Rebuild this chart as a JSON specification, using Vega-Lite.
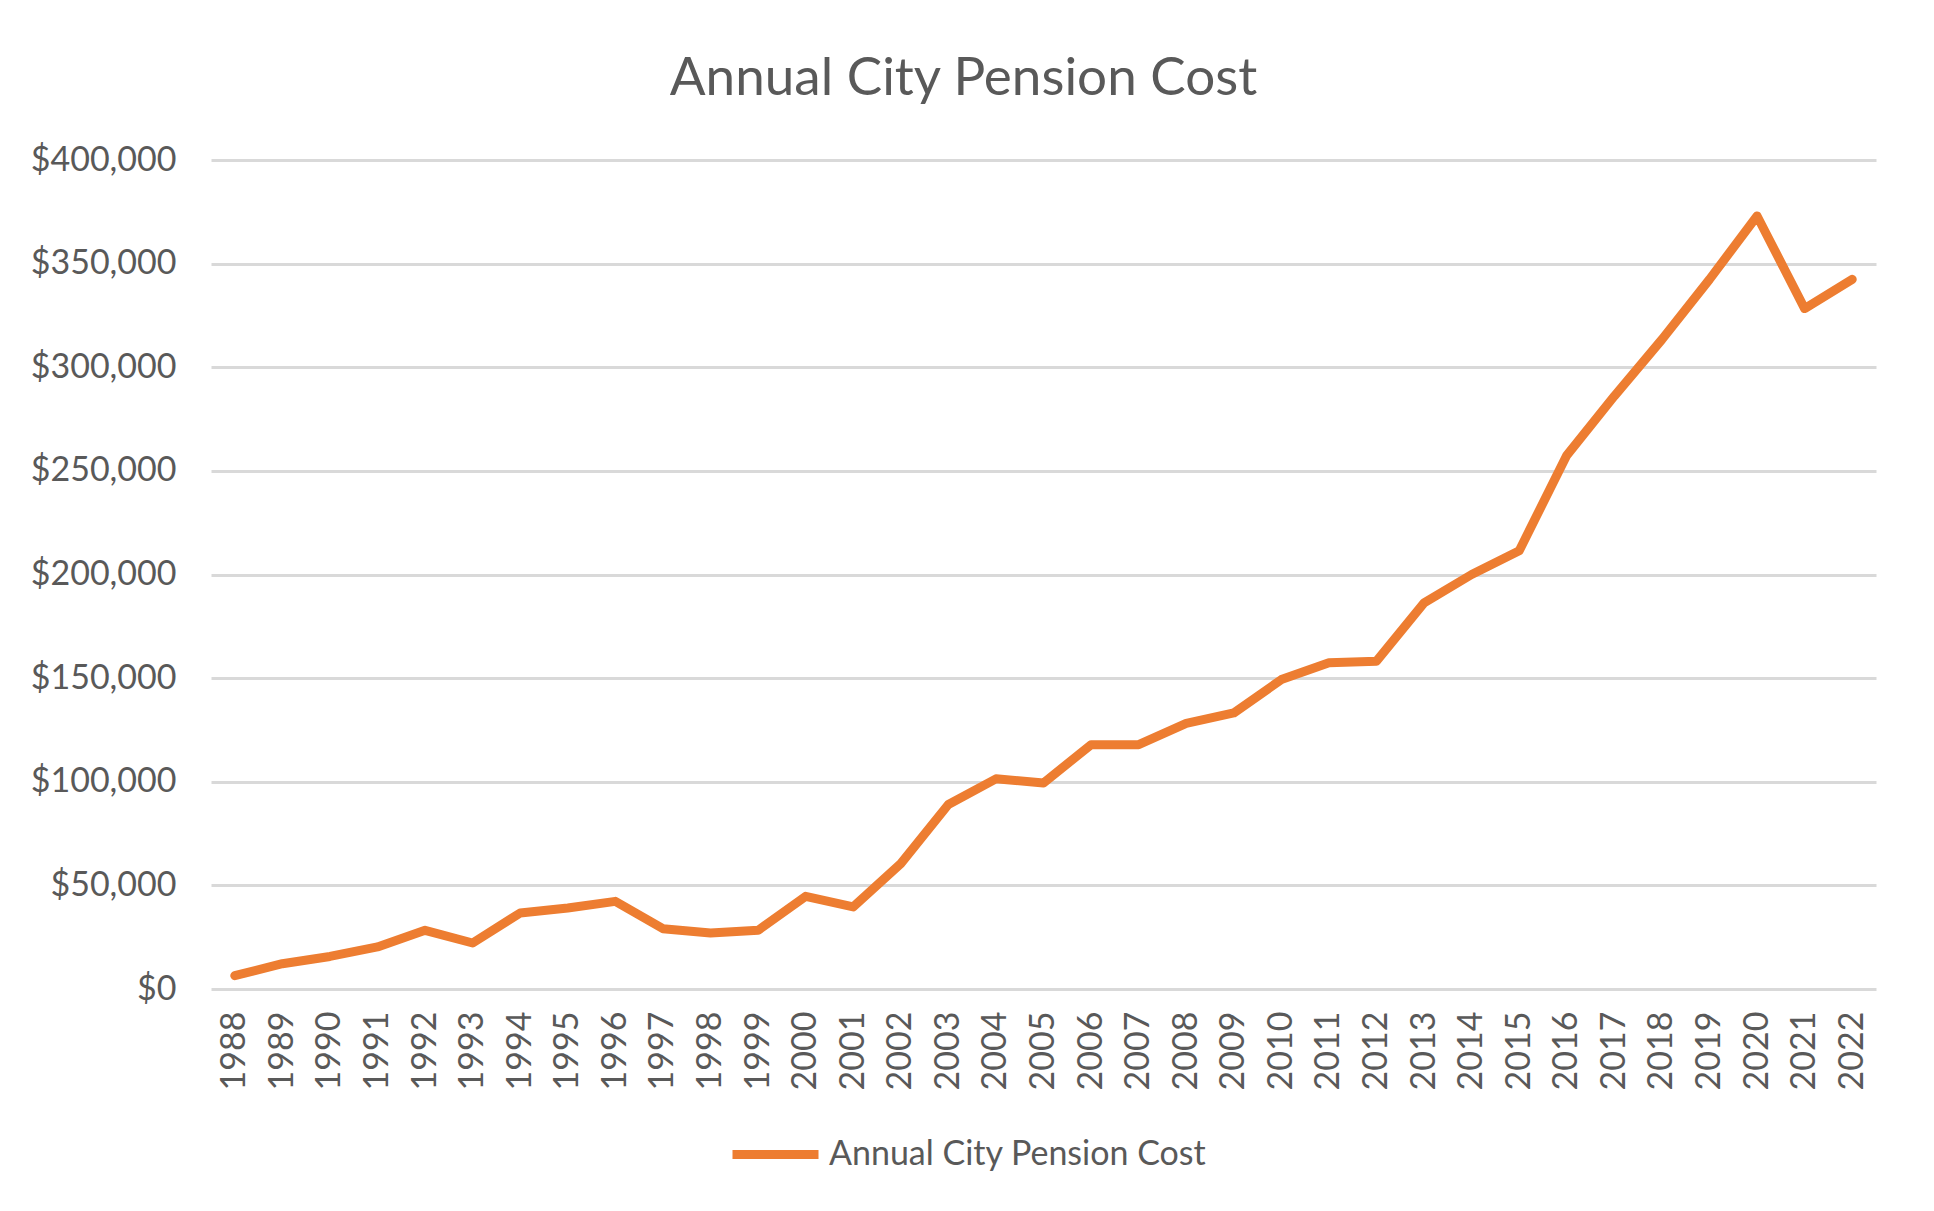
{
  "$schema": "https://vega.github.io/schema/vega-lite/v6.json",
  "width": 1665,
  "height": 829,
  "autosize": "none",
  "padding": {"left": 211, "top": 160, "right": 58, "bottom": 222},
  "background": "white",
  "title": {
    "text": "Annual City Pension Cost",
    "font": "Lato",
    "fontSize": 53,
    "fontWeight": "normal",
    "color": "#595959",
    "anchor": "middle",
    "frame": "group",
    "dx": -80,
    "baseline": "alphabetic",
    "offset": -5
  },
  "data": {
    "values": [
      {"year": "1988", "cost": 6400, "series": "Annual City Pension Cost"},
      {"year": "1989", "cost": 12200, "series": "Annual City Pension Cost"},
      {"year": "1990", "cost": 15700, "series": "Annual City Pension Cost"},
      {"year": "1991", "cost": 20300, "series": "Annual City Pension Cost"},
      {"year": "1992", "cost": 28300, "series": "Annual City Pension Cost"},
      {"year": "1993", "cost": 22200, "series": "Annual City Pension Cost"},
      {"year": "1994", "cost": 36700, "series": "Annual City Pension Cost"},
      {"year": "1995", "cost": 39100, "series": "Annual City Pension Cost"},
      {"year": "1996", "cost": 42300, "series": "Annual City Pension Cost"},
      {"year": "1997", "cost": 29100, "series": "Annual City Pension Cost"},
      {"year": "1998", "cost": 27000, "series": "Annual City Pension Cost"},
      {"year": "1999", "cost": 28300, "series": "Annual City Pension Cost"},
      {"year": "2000", "cost": 44700, "series": "Annual City Pension Cost"},
      {"year": "2001", "cost": 39600, "series": "Annual City Pension Cost"},
      {"year": "2002", "cost": 60500, "series": "Annual City Pension Cost"},
      {"year": "2003", "cost": 89000, "series": "Annual City Pension Cost"},
      {"year": "2004", "cost": 101400, "series": "Annual City Pension Cost"},
      {"year": "2005", "cost": 99400, "series": "Annual City Pension Cost"},
      {"year": "2006", "cost": 117900, "series": "Annual City Pension Cost"},
      {"year": "2007", "cost": 117900, "series": "Annual City Pension Cost"},
      {"year": "2008", "cost": 128200, "series": "Annual City Pension Cost"},
      {"year": "2009", "cost": 133200, "series": "Annual City Pension Cost"},
      {"year": "2010", "cost": 149300, "series": "Annual City Pension Cost"},
      {"year": "2011", "cost": 157400, "series": "Annual City Pension Cost"},
      {"year": "2012", "cost": 158200, "series": "Annual City Pension Cost"},
      {"year": "2013", "cost": 186300, "series": "Annual City Pension Cost"},
      {"year": "2014", "cost": 200000, "series": "Annual City Pension Cost"},
      {"year": "2015", "cost": 211500, "series": "Annual City Pension Cost"},
      {"year": "2016", "cost": 257500, "series": "Annual City Pension Cost"},
      {"year": "2017", "cost": 286100, "series": "Annual City Pension Cost"},
      {"year": "2018", "cost": 313400, "series": "Annual City Pension Cost"},
      {"year": "2019", "cost": 342400, "series": "Annual City Pension Cost"},
      {"year": "2020", "cost": 373000, "series": "Annual City Pension Cost"},
      {"year": "2021", "cost": 328300, "series": "Annual City Pension Cost"},
      {"year": "2022", "cost": 342400, "series": "Annual City Pension Cost"}
    ]
  },
  "mark": {"type": "line", "strokeWidth": 9, "strokeCap": "round", "strokeJoin": "round"},
  "encoding": {
    "x": {
      "field": "year",
      "type": "ordinal",
      "scale": {"type": "point", "padding": 0.5},
      "axis": {
        "title": null,
        "labelAngle": -90,
        "labelFont": "Lato",
        "labelFontSize": 34,
        "labelColor": "#595959",
        "labelPadding": 22,
        "ticks": false,
        "domain": false,
        "grid": false
      }
    },
    "y": {
      "field": "cost",
      "type": "quantitative",
      "scale": {"domain": [0, 400000], "nice": false},
      "axis": {
        "title": null,
        "values": [0, 50000, 100000, 150000, 200000, 250000, 300000, 350000, 400000],
        "format": "$,.0f",
        "labelFont": "Lato",
        "labelFontSize": 34,
        "labelColor": "#595959",
        "labelPadding": 35,
        "ticks": false,
        "domain": false,
        "grid": true,
        "gridColor": "#d9d9d9",
        "gridWidth": 3
      }
    },
    "color": {
      "field": "series",
      "type": "nominal",
      "scale": {"range": ["#ED7D31"]},
      "legend": {
        "title": null,
        "orient": "none",
        "legendX": 517,
        "legendY": 947,
        "direction": "horizontal",
        "symbolType": "stroke",
        "symbolSize": 7396,
        "symbolStrokeWidth": 9,
        "labelFont": "Lato",
        "labelFontSize": 34,
        "labelColor": "#595959",
        "labelOffset": 6,
        "labelLimit": 0,
        "padding": 0
      }
    }
  },
  "config": {"view": {"stroke": null}}
}
